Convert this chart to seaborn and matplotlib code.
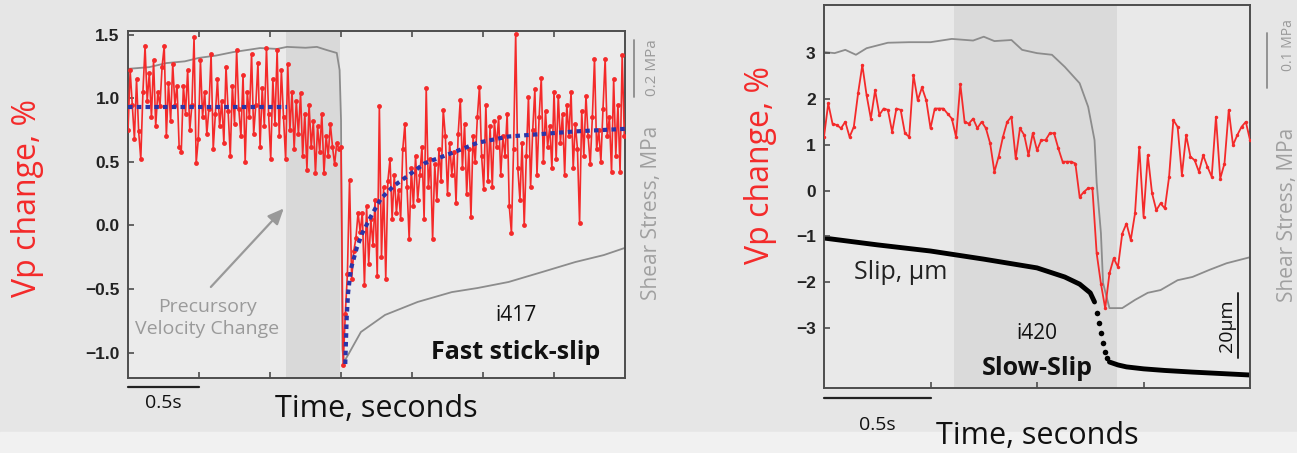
import numpy as np
import pandas as pd
import matplotlib
matplotlib.use("Agg")
import matplotlib.pyplot as plt
from matplotlib.patches import Rectangle
import seaborn as sns

# ---------------- left panel: i417, fast stick-slip ----------------
dt_fast = 0.015  # sampling interval of the Vp record, s
vp_fast = [
    # pre-slip (0 .. 1.5 s)
    0.75, 1.22, 0.95, 0.68, 1.15, 0.74, 0.52, 1.05, 1.41, 0.98,
    1.20, 0.85, 1.30, 0.78, 1.05, 0.94, 1.25, 1.41, 0.70, 1.12,
    0.82, 1.27, 0.95, 1.10, 0.62, 0.58, 1.10, 0.88, 1.22, 0.75,
    0.95, 1.48, 0.49, 0.68, 1.30, 0.85, 1.05, 0.72, 0.92, 1.35,
    0.60, 0.88, 1.15, 0.78, 0.98, 0.65, 1.25, 0.90, 0.55, 1.10,
    0.80, 1.38, 0.92, 0.70, 1.18, 0.50, 1.05, 0.85, 1.35, 0.72,
    0.95, 1.28, 0.62, 1.08, 0.78, 1.40, 0.88, 0.52, 1.15, 0.80,
    1.38, 0.70, 1.22, 0.85, 0.52, 1.27, 0.75, 1.05, 0.60, 0.98,
    0.72, 1.04, 0.55, 0.88, 0.44, 0.95, 0.62, 0.82, 0.41, 0.78,
    0.58, 0.88, 0.41, 0.70, 0.55, 0.80, 0.62, 0.48, 0.65, 0.60,
    0.62,
    # post-slip recovery (1.515 .. 3.5 s)
    -1.10, -0.70, -0.38, 0.36, -0.42, -0.20, -0.10, 0.10, -0.05, 0.10,
    -0.47, 0.15, -0.30, 0.05, -0.15, 0.20, -0.40, 0.94, -0.25, 0.30,
    -0.42, 0.35, 0.52, 0.05, 0.40, 0.10, 0.28, 0.05, 0.60, 0.80,
    0.30, -0.11, 0.45, 0.15, 0.55, 0.20, 0.40, 0.62, 0.05, 1.08,
    0.30, 0.52, -0.11, 0.48, 0.20, 0.60, 0.35, 0.91, 0.70, 0.25,
    0.65, 0.40, 0.58, 0.18, 0.72, 0.99, 0.45, 0.80, 0.25, 0.60,
    0.07, 0.70, 0.50, 0.85, 1.09, 0.55, 0.29, 0.95, 0.35, 0.78,
    0.30, 0.82, 0.62, 0.85, 0.40, 0.70, 0.55, 0.88, 0.15, -0.06,
    0.60, 1.51, 0.45, 0.20, 0.65, 0.00, 0.55, 1.01, 0.30, 0.75,
    1.07, 0.40, 0.85, 1.16, 0.50, 0.90, 0.62, 0.78, 0.45, 1.05,
    0.52, 1.02, 0.65, 0.88, 0.40, 0.95, 0.70, 1.05, 0.45, 0.80,
    0.60, 0.02, 0.90, 0.55, 1.02, 0.70, 0.48, 0.85, 1.31, 0.60,
    0.75, 0.50, 0.92, 1.31, 0.70, 0.85, 0.42, 1.15, 0.55, 0.95,
    0.42, 1.34, 0.70,
]
fit_pre_t = [0.0, 1.12]
fit_pre_v = [0.93, 0.93]
fit_post_t = [1.53, 1.54, 1.55, 1.57, 1.61, 1.65, 1.71, 1.78, 1.87, 1.97,
              2.09, 2.21, 2.35, 2.46, 2.68, 2.92, 3.15, 3.50]
fit_post_v = [-1.09, -0.73, -0.53, -0.34, -0.18, -0.06, 0.07, 0.21, 0.31, 0.39,
              0.49, 0.54, 0.60, 0.65, 0.70, 0.72, 0.74, 0.76]
stress_fast_t = [0.0, 0.15, 0.27, 0.4, 0.5, 0.62, 0.74, 0.85, 0.93, 1.05, 1.12, 1.25,
                 1.33, 1.40, 1.47, 1.49, 1.50, 1.505, 1.51, 1.52, 1.55, 1.64, 1.81,
                 2.04, 2.28, 2.46, 2.68, 2.92, 3.15, 3.35, 3.50]
stress_fast = [1.069, 1.075, 1.089, 1.095, 1.107, 1.115, 1.127, 1.135, 1.141, 1.138, 1.145,
               1.142, 1.145, 1.134, 1.124, 1.065, 0.892, 0.45, 0.10, 0.055, 0.08, 0.159,
               0.218, 0.263, 0.297, 0.311, 0.332, 0.367, 0.401, 0.425, 0.45]

# ---------------- right panel: i420, slow-slip ----------------
dt_slow = 0.02
vp_slow = [
    1.17, 1.90, 1.46, 1.43, 1.36, 1.50, 1.17, 1.39, 2.12, 2.74,
    2.08, 1.57, 2.19, 1.65, 1.79, 1.76, 1.28, 1.79, 1.76, 1.25,
    1.17, 2.52, 1.97, 2.25, 1.97, 1.36, 1.79, 1.79, 1.79, 1.68,
    1.57, 1.17, 2.32, 1.50, 1.46, 1.57, 1.36, 1.50, 1.36, 1.03,
    0.41, 0.74, 1.17, 1.50, 1.61, 0.70, 1.36, 1.21, 0.77, 1.25,
    0.88, 1.10, 1.10, 1.25, 1.25, 0.92, 0.63, 0.63, 0.63, 0.59,
    -0.14, -0.03, 0.05, 0.05, -1.37, -2.03, -2.57,
    -1.81, -1.48, -1.67, -0.94, -0.72, -1.08, -0.50, 0.95, -0.57, 0.77,
    -0.06, -0.43, -0.28, -0.39, 0.30, 1.54, 1.39, 0.34, 1.21, 0.74,
    0.66, 0.41, 0.77, 0.52, 0.30, 1.61, 0.26, 0.59, 1.76, 0.99,
    1.21, 1.39, 1.50, 1.10,
]
stress_slow_t = [0.0, 0.05, 0.1, 0.15, 0.2, 0.3, 0.4, 0.5, 0.6, 0.7, 0.75, 0.8, 0.88,
                 0.93, 1.0, 1.07, 1.13, 1.2, 1.24, 1.27, 1.28, 1.30, 1.31, 1.34, 1.40,
                 1.46, 1.52, 1.58, 1.66, 1.73, 1.81, 1.89, 2.0]
stress_slow = [0.614, 0.612, 0.618, 0.609, 0.621, 0.631, 0.632, 0.632, 0.638, 0.635, 0.642,
               0.634, 0.636, 0.618, 0.612, 0.609, 0.587, 0.557, 0.514, 0.453, 0.375, 0.283,
               0.192, 0.146, 0.146, 0.161, 0.174, 0.179, 0.197, 0.203, 0.216, 0.228, 0.239]
slip_pre_t = [0.0, 0.25, 0.5, 0.75, 1.0, 1.13, 1.2, 1.25, 1.27]
slip_pre = [46.2, 44.1, 42.2, 39.7, 37.0, 34.2, 32.0, 29.3, 26.5]
slip_jump_t = [1.28, 1.29, 1.30, 1.31, 1.32, 1.33]
slip_jump = [23.1, 20.0, 16.9, 13.9, 11.1, 9.2]
slip_post_t = [1.34, 1.38, 1.42, 1.5, 1.6, 1.73, 1.85, 2.0]
slip_post = [8.0, 7.1, 6.5, 5.9, 5.4, 4.9, 4.5, 4.0]

RED = "#f42a2a"
GRAY = "#8c8c8c"
BLUE = "#2a35a8"
EDGE = "#4d4d4d"

sns.set_theme(style="ticks")
plt.rcParams["font.family"] = ["Open Sans", "DejaVu Sans"]

fig = plt.figure(figsize=(12.97, 4.53), dpi=100, facecolor="#e6e6e6")
fig.patches.append(Rectangle((0, 0), 1, 0.046, transform=fig.transFigure,
                             color="#f1f1f1", zorder=-1))


def style_main(ax):
    for sp in ax.spines.values():
        sp.set_color(EDGE)
        sp.set_linewidth(1.4)
    ax.tick_params(axis="both", direction="in", length=4, width=1.2, color=EDGE,
                   labelsize=12.5, pad=6)
    ax.tick_params(axis="x", labelbottom=False)
    for lab in ax.get_yticklabels():
        lab.set_fontweight("bold")
        lab.set_fontfamily("Liberation Sans")
        lab.set_color("#222222")
    ax.set_xlabel("")
    ax.set_ylabel("")


def twin(ax, face=None):
    t = ax.twinx()
    t.set_yticks([])
    for sp in t.spines.values():
        sp.set_visible(False)
    if face is not None:
        t.patch.set_visible(True)
        t.patch.set_facecolor(face)
    ax.set_zorder(t.get_zorder() + 2)
    ax.patch.set_visible(False)
    return t


# ======== LEFT ========
axL = fig.add_axes([0.0987, 0.1656, 0.3832, 0.766])
axLs = twin(axL, face="#ebebeb")
axLs.axvspan(1.11, 1.49, color="#d9d9d9", lw=0)
sns.lineplot(x=stress_fast_t, y=stress_fast, ax=axLs, color=GRAY, lw=1.3)
axLs.set_ylim(0, 1.2)
axLs.set_xlim(0, 3.5)

t_fast = np.arange(len(vp_fast)) * dt_fast
df_fast = pd.DataFrame({"t": t_fast, "vp": vp_fast})
sns.lineplot(data=df_fast, x="t", y="vp", ax=axL, color=RED, lw=1.2,
             marker="o", markersize=3.5, markeredgewidth=0, zorder=3)
sns.lineplot(x=fit_pre_t, y=fit_pre_v, ax=axL, color=BLUE, lw=3,
             linestyle=(0, (1.1, 1.0)), zorder=4)
sns.lineplot(x=fit_post_t, y=fit_post_v, ax=axL, color=BLUE, lw=3,
             linestyle=(0, (1.1, 1.0)), zorder=4)
axL.set_xlim(0, 3.5)
axL.set_ylim(-1.2, 1.53)
axL.set_xticks(np.arange(0.5, 3.5, 0.5))
axL.set_yticks([-1.0, -0.5, 0.0, 0.5, 1.0, 1.5])
axL.tick_params(axis="x", top=True)
style_main(axL)

axL.set_xlabel("Time, seconds", fontsize=22, color="#111111")
axL.xaxis.set_label_coords(0.5, -0.045)
axL.set_ylabel("Vp change, %", fontsize=23, color=RED)
axL.yaxis.set_label_coords(-0.17, 0.52)

axL.annotate("", xy=(1.11, 0.15), xytext=(0.57, -0.50),
             arrowprops=dict(arrowstyle="-|>,head_width=0.35,head_length=0.8",
                             color="#999999", lw=1.6))
axL.text(0.56, -0.73, "Precursory\nVelocity Change", ha="center", va="center",
         fontsize=14, color="#9a9a9a", linespacing=1.25)
axL.text(2.73, -0.71, "i417", ha="center", va="center", fontsize=15, color="#111111")
axL.text(2.73, -1.0, "Fast stick-slip", ha="center", va="center", fontsize=18,
         fontweight="bold", color="#111111")

# time scale bar 0.5 s
axL.plot([0, 0.5], [-0.026, -0.026], transform=axL.get_xaxis_transform(),
         color="#222222", lw=1.6, clip_on=False)
axL.text(0.25, -0.072, "0.5s", transform=axL.get_xaxis_transform(), ha="center",
         va="center", fontsize=14, color="#111111")
# stress scale bar 0.2 MPa
axLs.plot([1.018, 1.018], [0.97, 1.17], transform=axLs.get_yaxis_transform(),
          color=GRAY, lw=1.3, clip_on=False)
fig.text(652 / 1297, 1 - 68 / 453, "0.2 MPa", rotation=90, ha="center", va="center",
         fontsize=11, color="#9a9a9a")
fig.text(652 / 1297, 1 - 213 / 453, "Shear Stress, MPa", rotation=90, ha="center",
         va="center", fontsize=15, color="#a0a0a0")

# ======== RIGHT ========
axR = fig.add_axes([0.6353, 0.1435, 0.3285, 0.8455])
axRs = twin(axR, face="#e9e9e9")
axRs.axvspan(0.61, 1.375, color="#dadada", lw=0)
sns.lineplot(x=stress_slow_t, y=stress_slow, ax=axRs, color=GRAY, lw=1.3)
axRs.set_ylim(0, 0.7)
axRs.set_xlim(0, 2.0)

axRd = axR.twinx()
axRd.set_yticks([])
for sp in axRd.spines.values():
    sp.set_visible(False)
sns.lineplot(x=slip_pre_t, y=slip_pre, ax=axRd, color="black", lw=3.5)
sns.scatterplot(x=slip_jump_t, y=slip_jump, ax=axRd, color="black", s=16, linewidth=0)
sns.lineplot(x=slip_post_t, y=slip_post, ax=axRd, color="black", lw=3.5)
axRd.set_ylim(0, 118)
axRd.set_xlim(0, 2.0)
axR.set_zorder(axRd.get_zorder() + 1)

t_slow = np.arange(len(vp_slow)) * dt_slow
df_slow = pd.DataFrame({"t": t_slow, "vp": vp_slow})
sns.lineplot(data=df_slow, x="t", y="vp", ax=axR, color=RED, lw=1.3,
             marker="o", markersize=2.5, markeredgewidth=0, zorder=3)
axR.set_xlim(0, 2.0)
axR.set_ylim(-4.31, 4.05)
axR.set_xticks([0.5, 1.0, 1.5])
axR.set_yticks([-3, -2, -1, 0, 1, 2, 3])
style_main(axR)

axR.set_xlabel("Time, seconds", fontsize=22, color="#111111")
axR.xaxis.set_label_coords(0.5, -0.085)
axR.set_ylabel("Vp change, %", fontsize=23, color=RED)
axR.yaxis.set_label_coords(-0.11, 0.582)

axR.text(0.36, -1.80, "Slip, \u00b5m", ha="center", va="center", fontsize=18,
         color="#222222")
axR.text(1.0, -3.11, "i420", ha="center", va="center", fontsize=15, color="#111111")
axR.text(1.0, -3.88, "Slow-Slip", ha="center", va="center", fontsize=18,
         fontweight="bold", color="#111111")

axR.plot([0, 0.5], [-0.026, -0.026], transform=axR.get_xaxis_transform(),
         color="#222222", lw=1.6, clip_on=False)
axR.text(0.25, -0.097, "0.5s", transform=axR.get_xaxis_transform(), ha="center",
         va="center", fontsize=14, color="#111111")
# slip scale bar 20 um
axRd.plot([0.972, 0.972], [9.2, 29.2], transform=axRd.get_yaxis_transform(),
          color="#222222", lw=1.4)
axRd.text(0.945, 19.2, "20\u00b5m", transform=axRd.get_yaxis_transform(),
          rotation=90, ha="center", va="center", fontsize=14, color="#111111")
# stress scale bar 0.1 MPa
axRs.plot([1.04, 1.04], [0.548, 0.648], transform=axRs.get_yaxis_transform(),
          color=GRAY, lw=1.3, clip_on=False)
fig.text(1288 / 1297, 1 - 45 / 453, "0.1 MPa", rotation=90, ha="center", va="center",
         fontsize=10, color="#9a9a9a")
fig.text(1288 / 1297, 1 - 215 / 453, "Shear Stress, MPa", rotation=90, ha="center",
         va="center", fontsize=15, color="#a0a0a0")

fig.savefig("out.png", dpi=100, facecolor=fig.get_facecolor())
